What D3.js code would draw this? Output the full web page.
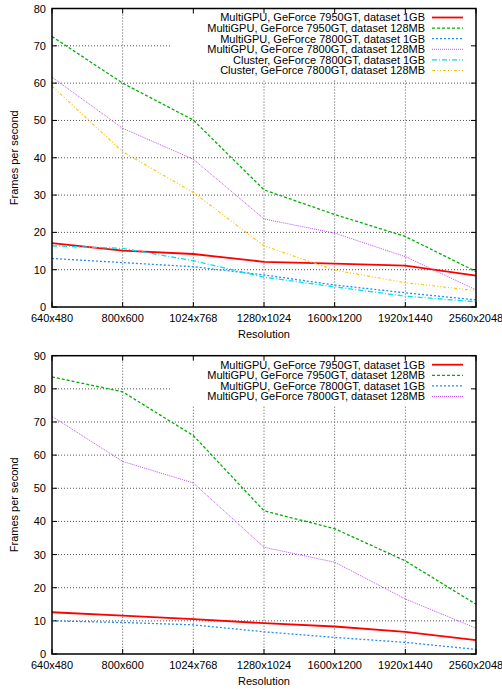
<!DOCTYPE html>
<html>
<head>
<meta charset="utf-8">
<script src="https://cdn.jsdelivr.net/npm/d3@7"></script>
<style>
  body { margin: 0; background: #fff; }
  svg { display: block; font-family: "Liberation Sans", Arial, sans-serif; }
</style>
</head>
<body>
<div id="canvas"></div>
<script>
// Categories on the x axis.
const resolutions = ["640x480", "800x600", "1024x768", "1280x1024", "1600x1200", "1920x1440", "2560x2048"];

// Top chart values (frames per second).
const top7950_1GB   = [17.1, 15.1, 14.2, 12.1, 11.6, 11.1, 8.4];
const top7950_128MB = [72.5, 60.0, 50.1, 31.4, 24.8, 18.9, 9.5];
const top7800_1GB   = [13.0, 11.9, 10.8, 8.6, 5.9, 3.8, 1.9];
const top7800_128MB = [61.6, 47.9, 39.6, 23.6, 19.8, 13.5, 4.6];
const cluster_1GB   = [16.4, 15.7, 12.4, 8.0, 5.4, 2.9, 1.4];
const cluster_128MB = [59.2, 41.6, 30.7, 16.4, 9.9, 6.5, 4.4];

// Bottom chart values (frames per second).
const bot7950_1GB   = [12.6, 11.6, 10.5, 9.3, 8.3, 6.7, 4.2];
const bot7950_128MB = [83.6, 79.1, 65.9, 43.2, 37.8, 28.1, 15.0];
const bot7800_1GB   = [10.0, 9.5, 8.8, 6.7, 5.0, 3.5, 1.4];
const bot7800_128MB = [71.7, 58.1, 51.6, 32.2, 27.7, 16.6, 7.8];

// Legend labels.
const labels = [
    "MultiGPU, GeForce 7950GT, dataset 1GB",
    "MultiGPU, GeForce 7950GT, dataset 128MB",
    "MultiGPU, GeForce 7800GT, dataset 1GB",
    "MultiGPU, GeForce 7800GT, dataset 128MB",
    "Cluster, GeForce 7800GT, dataset 1GB",
    "Cluster, GeForce 7800GT, dataset 128MB"
];

// Y tick values for both charts.
const topTicks = [0, 10, 20, 30, 40, 50, 60, 70, 80];
const botTicks = [0, 10, 20, 30, 40, 50, 60, 70, 80, 90];

// Line styles, in the same order as the legend.
const styles = [
    { color: "#ff0000", width: 1.8, dash: null },
    { color: "#00b000", width: 1.3, dash: "3,2" },
    { color: "#1f8fff", width: 1.3, dash: "2,2" },
    { color: "#c050f0", width: 1, dash: "1,1" },
    { color: "#00e0e8", width: 1.3, dash: "5,2,1,2" },
    { color: "#ffc000", width: 1.1, dash: "3,2,1,2,1,2" }
];

const W = 502, H = 689;
const svg = d3.select("#canvas")
    .append("svg")
    .attr("width", W)
    .attr("height", H);

// Draws one gnuplot-style chart.
function drawChart(cfg) {
    const left = 52, right = 476;
    const x = d3.scalePoint().domain(resolutions).range([left, right]);
    const y = d3.scaleLinear().domain([0, d3.max(cfg.ticks)]).range([cfg.bottom, cfg.top]);
    const g = svg.append("g");

    // Grid lines.
    g.selectAll(".hgrid").data(cfg.ticks.slice(1, -1)).enter()
        .append("line")
        .attr("x1", left).attr("x2", right)
        .attr("y1", d => y(d)).attr("y2", d => y(d))
        .attr("stroke", "#555").attr("stroke-width", 1)
        .attr("stroke-dasharray", "1,2");
    g.selectAll(".vgrid").data(resolutions.slice(1, -1)).enter()
        .append("line")
        .attr("x1", d => x(d)).attr("x2", d => x(d))
        .attr("y1", cfg.top).attr("y2", cfg.bottom)
        .attr("stroke", "#555").attr("stroke-width", 1)
        .attr("stroke-dasharray", "1,2");

    // Legend background hides the grid.
    const n = cfg.series.length;
    const rowH = 10.6;
    g.append("rect")
        .attr("x", 170).attr("y", cfg.top + 1)
        .attr("width", right - 171)
        .attr("height", n * rowH + 6)
        .attr("fill", "#fff");

    // Tick marks, mirrored on all sides.
    cfg.ticks.forEach(t => {
        g.append("line").attr("x1", left).attr("x2", left + 5)
            .attr("y1", y(t)).attr("y2", y(t)).attr("stroke", "#000");
        g.append("line").attr("x1", right).attr("x2", right - 5)
            .attr("y1", y(t)).attr("y2", y(t)).attr("stroke", "#000");
    });
    resolutions.forEach(r => {
        g.append("line").attr("x1", x(r)).attr("x2", x(r))
            .attr("y1", cfg.bottom).attr("y2", cfg.bottom - 5).attr("stroke", "#000");
        g.append("line").attr("x1", x(r)).attr("x2", x(r))
            .attr("y1", cfg.top).attr("y2", cfg.top + 5).attr("stroke", "#000");
    });

    // Data lines.
    const line = d3.line()
        .x((d, i) => x(resolutions[i]))
        .y(d => y(d));
    cfg.series.forEach((s, i) => {
        g.append("path")
            .attr("d", line(s))
            .attr("fill", "none")
            .attr("stroke", styles[i].color)
            .attr("stroke-width", styles[i].width)
            .attr("stroke-dasharray", styles[i].dash);
    });

    // Legend entries.
    cfg.series.forEach((s, i) => {
        const ly = cfg.top + 9 + i * rowH;
        g.append("text")
            .attr("x", 425).attr("y", ly + 3.8)
            .attr("text-anchor", "end")
            .attr("font-size", 11)
            .text(labels[i]);
        g.append("line")
            .attr("x1", 432).attr("x2", 463)
            .attr("y1", ly).attr("y2", ly)
            .attr("stroke", styles[i].color)
            .attr("stroke-width", styles[i].width)
            .attr("stroke-dasharray", styles[i].dash);
    });

    // Border.
    g.append("rect")
        .attr("x", left).attr("y", cfg.top)
        .attr("width", right - left).attr("height", cfg.bottom - cfg.top)
        .attr("fill", "none").attr("stroke", "#000").attr("stroke-width", 1.5);

    // Tick labels.
    g.selectAll(".ylab").data(cfg.ticks).enter()
        .append("text")
        .attr("x", 46).attr("y", d => y(d) + 4)
        .attr("text-anchor", "end")
        .attr("font-size", 11)
        .text(d => d);
    g.selectAll(".xlab").data(resolutions).enter()
        .append("text")
        .attr("x", d => x(d)).attr("y", cfg.bottom + 15)
        .attr("text-anchor", "middle")
        .attr("font-size", 11)
        .text(d => d);

    // Axis titles.
    g.append("text")
        .attr("x", (left + right) / 2).attr("y", cfg.bottom + 31)
        .attr("text-anchor", "middle")
        .attr("font-size", 11)
        .text("Resolution");
    g.append("text")
        .attr("transform", `translate(18,${(cfg.top + cfg.bottom) / 2}) rotate(-90)`)
        .attr("text-anchor", "middle")
        .attr("font-size", 11)
        .text("Frames per second");
}

drawChart({
    top: 8.5, bottom: 307, ticks: topTicks,
    series: [top7950_1GB, top7950_128MB, top7800_1GB, top7800_128MB, cluster_1GB, cluster_128MB]
});
drawChart({
    top: 355.7, bottom: 654, ticks: botTicks,
    series: [bot7950_1GB, bot7950_128MB, bot7800_1GB, bot7800_128MB]
});
</script>
</body>
</html>
